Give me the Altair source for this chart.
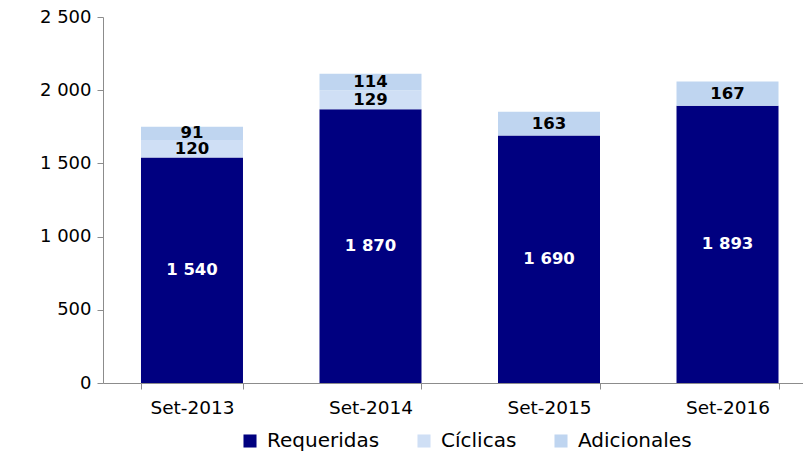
import altair as alt
import pandas as pd

categories = ["Set-2013", "Set-2014", "Set-2015", "Set-2016"]
series = ["Requeridas", "Cíclicas", "Adicionales"]
requeridas = [1540, 1870, 1690, 1893]
ciclicas = [120, 129, 0, 0]
adicionales = [91, 114, 163, 167]
y_ticks = [0, 500, 1000, 1500, 2000, 2500]
colors = ["#000080", "#cfdff5", "#bfd5f0"]
title_text = "(En millones de S/)"

rows = []
for i, cat in enumerate(categories):
    for j, (name, vals) in enumerate(zip(series, [requeridas, ciclicas, adicionales])):
        rows.append({"cat": cat, "serie": name, "idx": j, "value": vals[i]})
df = pd.DataFrame(rows)

FONT = "DejaVu Sans"
AXIS_GRAY = "#8c8c8c"

base = (
    alt.Chart(df)
    .transform_filter("datum.value > 0")
    .transform_stack(
        stack="value",
        groupby=["cat"],
        sort=[alt.SortField("idx", order="ascending")],
        as_=["y0", "y1"],
    )
    .transform_calculate(
        mid="(datum.y0 + datum.y1) / 2",
        lbl="replace(format(datum.value, ',d'), ',', ' ')",
    )
)

x_enc = alt.X(
    "cat:N",
    sort=categories,
    scale=alt.Scale(paddingInner=0.4286, paddingOuter=0.175, align=0.608),
    axis=alt.Axis(
        title=None,
        labelAngle=0,
        labelFont=FONT,
        labelFontSize=18.5,
        labelColor="black",
        labelPadding=9,
        tickBand="extent",
        tickSize=6,
        tickColor=AXIS_GRAY,
        domainColor=AXIS_GRAY,
        grid=False,
    ),
)

bars = base.mark_bar().encode(
    x=x_enc,
    y=alt.Y(
        "y0:Q",
        scale=alt.Scale(domain=[0, 2500], nice=False),
        axis=alt.Axis(
            title=None,
            values=y_ticks,
            labelExpr="replace(format(datum.value, ',d'), ',', ' ')",
            labelFont=FONT,
            labelFontSize=18,
            labelColor="black",
            labelPadding=6,
            tickSize=6,
            tickColor=AXIS_GRAY,
            domainColor=AXIS_GRAY,
            grid=False,
        ),
    ),
    y2="y1:Q",
    color=alt.Color(
        "serie:N",
        scale=alt.Scale(domain=series, range=colors),
        legend=alt.Legend(
            title=None,
            orient="none",
            legendX=137,
            legendY=414,
            direction="horizontal",
            symbolType="square",
            symbolSize=170,
            symbolStrokeWidth=0,
            labelFont=FONT,
            labelFontSize=20,
            labelColor="black",
            labelOffset=7,
            columnPadding=34,
            padding=0,
        ),
    ),
)

labels = base.mark_text(font=FONT, fontWeight="bold", fontSize=16.5).encode(
    x=x_enc,
    y=alt.Y("mid:Q"),
    text="lbl:N",
    color=alt.condition(alt.datum.serie == "Requeridas", alt.value("white"), alt.value("black")),
)

chart = (
    alt.layer(bars, labels)
    .properties(
        width=700,
        height=366,
        padding={"left": 95, "top": 9, "right": 0, "bottom": 70},
        autosize=alt.AutoSizeParams(type="none"),
        title=alt.TitleParams(
            title_text,
            font=FONT,
            fontSize=19,
            fontWeight="normal",
            color="black",
            anchor="middle",
            offset=11,
        ),
    )
    .configure_view(stroke=None)
    .configure_legend(padding=0)
)

chart.save("out.html", embed_options={"renderer": "svg", "actions": False})
